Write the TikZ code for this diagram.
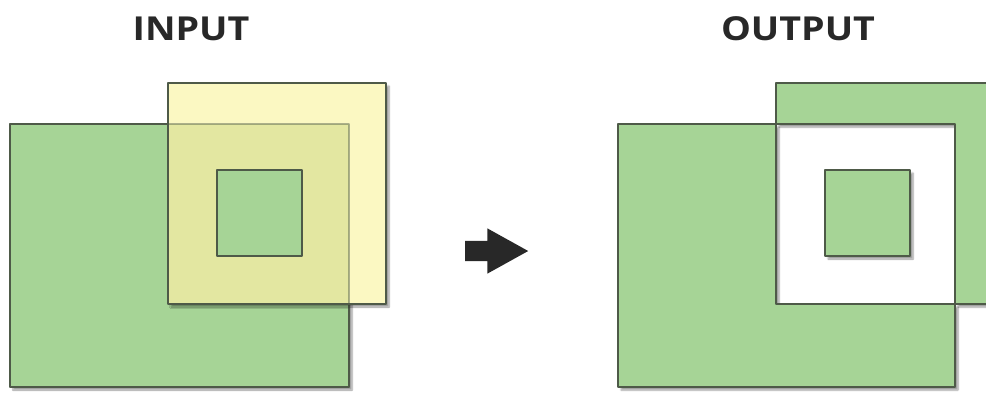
\documentclass[tikz,border=0pt]{standalone}
\usepackage{fontspec}
\newfontfamily\titlefont{Open Sans}[FakeStretch=1.14]
\usetikzlibrary{shapes.arrows, shadows.blur, positioning}
\definecolor{polygreen}{RGB}{166,212,150}
\definecolor{polyyellow}{RGB}{251,248,194}
\definecolor{polyblend}{RGB}{227,231,161}
\definecolor{polyedge}{RGB}{78,90,72}
\definecolor{darkgray}{RGB}{40,40,40}

\begin{document}
\begin{tikzpicture}[
    x=1pt, y=-1pt,
    poly/.style={draw=polyedge, line width=2.6pt, line join=round},
    softshadow/.style={blur shadow={shadow xshift=3pt, shadow yshift=-3pt, shadow blur steps=6, shadow opacity=40}},
    title/.style={font=\titlefont\bfseries\fontsize{33}{33}\selectfont, text=darkgray, anchor=base},
    bigarrow/.style={single arrow, fill=darkgray, draw=none, inner xsep=0pt, inner ysep=10pt, minimum height=63pt, minimum width=45pt, single arrow head extend=12.5pt, single arrow tip angle=58}
]
\useasboundingbox (0,0) rectangle (986,392);
\clip (0,0) rectangle (986,392);

% titles
\node[title] (intitle) at (191,40) {INPUT};
\node[title] (outtitle) at (798,40) {OUTPUT};

% input layers
\draw[poly, fill=polygreen, softshadow] (10,124) rectangle (349,387);
\fill[polyyellow, softshadow] (168,83) rectangle (386,304);
\fill[polyblend] (168,124) rectangle (349,304);
\draw[poly, draw opacity=0.45] (10,124) rectangle (349,387);
\draw[poly] (168,83) rectangle (386,304);
\draw[poly, fill=polygreen] (217,170) rectangle (302,256);

% arrow
\node[bigarrow] (go) at (487.5,251) {};

% output: symmetrical difference
\fill[polygreen, softshadow] (618,124) -- (776,124) -- (776,304) -- (955,304) -- (955,387) -- (618,387) -- cycle;
\fill[polygreen, softshadow] (776,83) -- (994,83) -- (994,304) -- (955,304) -- (955,124) -- (776,124) -- cycle;
\draw[poly] (618,124) rectangle (955,387);
\draw[poly] (776,83) rectangle (994,304);
\draw[poly, fill=polygreen, softshadow] (825,170) rectangle (910,256);
\end{tikzpicture}
\end{document}
